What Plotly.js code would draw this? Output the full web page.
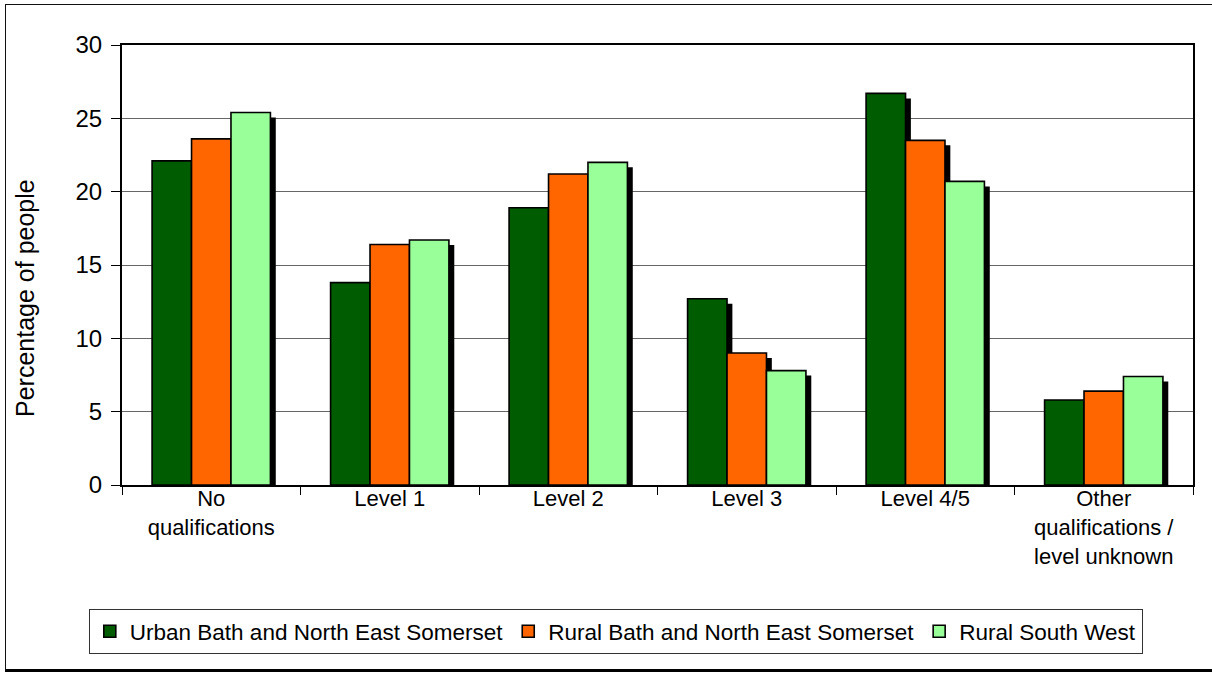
<!DOCTYPE html>
<html>
<head>
<meta charset="utf-8">
<script src="https://cdn.plot.ly/plotly-3.0.1.min.js"></script>
<style>
html,body{margin:0;padding:0;background:#fff;overflow:hidden;}
#wrap{position:relative;width:1212px;height:674px;}
#chart{position:absolute;left:0;top:0;width:1212px;height:674px;}
#frame{position:absolute;left:5px;top:4px;width:1220px;height:664px;border-left:1px solid #111;border-top:1px solid #111;border-bottom:3px solid #000;pointer-events:none;}
</style>
</head>
<body>
<div id="wrap"><div id="chart"></div><div id="frame"></div></div>
<script>
// ---- data ----
var categories = ["No<br>qualifications", "Level 1", "Level 2", "Level 3", "Level 4/5", "Other<br>qualifications /<br>level unknown"];
var seriesNames = ["Urban Bath and North East Somerset", "Rural Bath and North East Somerset", "Rural South West"];
var urbanBANES = [22.1, 13.8, 18.9, 12.7, 26.7, 5.8];
var ruralBANES = [23.6, 16.4, 21.2, 9.0, 23.5, 6.4];
var ruralSW    = [25.4, 16.7, 22.0, 7.8, 20.7, 7.4];
var yTickVals  = [0, 5, 10, 15, 20, 25, 30];
var yTitle = "Percentage of people";

// ---- styling ----
var colors = ["#005c00", "#ff6600", "#99ff99"];
var series = [urbanBANES, ruralBANES, ruralSW];
var barW = 0.221;
var offsets = [-0.3315, -0.1105, 0.1105];
var shadowDx = 0.03;

var traces = [];
series.forEach(function (vals, i) {
  traces.push({
    type: "bar", x: categories, y: vals, xaxis: "x", yaxis: "y",
    width: barW, offset: offsets[i] + shadowDx,
    marker: {color: "#000", line: {width: 0}},
    showlegend: false, hoverinfo: "skip"
  });
});
series.forEach(function (vals, i) {
  traces.push({
    type: "bar", name: seriesNames[i], x: categories, y: vals, xaxis: "x", yaxis: "y2",
    width: barW, offset: offsets[i],
    marker: {color: colors[i], line: {color: "#000", width: 1.6}}
  });
});

var fam = "Liberation Sans, Arial, sans-serif";
var font = {family: fam, size: 22, color: "#000"};
var layout = {
  width: 1212, height: 674,
  margin: {l: 122, r: 19, t: 45, b: 189},
  paper_bgcolor: "rgba(0,0,0,0)", plot_bgcolor: "#fff",
  font: font,
  barmode: "overlay",
  showlegend: true,
  xaxis: {
    type: "category", range: [-0.5, 5.5], tickson: "boundaries",
    ticks: "outside", ticklen: 8, tickcolor: "#000", tickwidth: 1,
    showline: true, linecolor: "#000", linewidth: 2, mirror: true,
    showgrid: false, tickfont: font, fixedrange: true, ticklabelstandoff: -7
  },
  yaxis: {
    range: [0.34, 30.34], visible: false, fixedrange: true
  },
  yaxis2: {
    overlaying: "y", side: "left", range: [0, 30], tickvals: yTickVals,
    ticks: "outside", ticklen: 9, tickcolor: "#000", tickwidth: 1,
    showline: true, linecolor: "#000", linewidth: 2, mirror: true,
    showgrid: true, gridcolor: "#666", gridwidth: 1, zeroline: false,
    tickfont: {family: fam, size: 24, color: "#000"}, fixedrange: true,
    ticklabelstandoff: 4
  },
  annotations: [{
    text: yTitle, textangle: -90, xref: "paper", yref: "paper",
    x: -0.0906, y: 0.425, xanchor: "center", yanchor: "middle",
    showarrow: false, font: {family: fam, size: 25, color: "#000"}
  }],
  legend: {
    orientation: "h", x: -0.031, xanchor: "left", y: -0.282, yanchor: "top",
    bordercolor: "#333", borderwidth: 1, bgcolor: "#fff",
    font: {family: fam, size: 22.5, color: "#000"}, traceorder: "normal", itemwidth: 30
  }
};

Plotly.newPlot("chart", traces, layout, {staticPlot: true, displayModeBar: false});
</script>
</body>
</html>
